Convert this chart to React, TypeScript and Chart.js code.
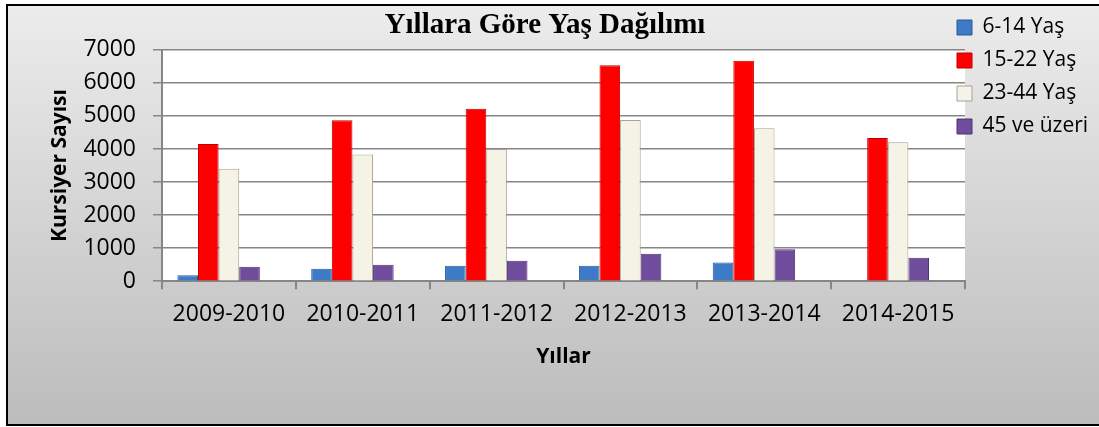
import React, { useEffect, useRef } from "react";
import { Chart, registerables } from "chart.js";

Chart.register(...registerables);

const categories = ["2009-2010", "2010-2011", "2011-2012", "2012-2013", "2013-2014", "2014-2015"];
const seriesNames = ["6-14 Yaş", "15-22 Yaş", "23-44 Yaş", "45 ve üzeri"];
const age6to14 = [180, 375, 465, 465, 566, 0];
const age15to22 = [4150, 4870, 5220, 6530, 6670, 4330];
const age23to44 = [3400, 3830, 4000, 4880, 4630, 4200];
const age45plus = [435, 495, 615, 830, 970, 710];
const yMin = 0;
const yMax = 7000;
const yStep = 1000;

const fills = ["#3d7bc6", "#ff0000", "#f5f2e6", "#704c9c"];
const edges = ["#2a5a94", "#c00000", "#a8a293", "#4e3270"];

const SANS = "'Open Sans', sans-serif";

export default function App() {
  const ref = useRef<HTMLCanvasElement>(null);

  useEffect(() => {
    document.body.style.margin = "0";
    const series = [age6to14, age15to22, age23to44, age45plus];
    const datasets: any[] = series.map((d, i) => ({
      label: seriesNames[i],
      data: d,
      backgroundColor: fills[i],
      borderColor: edges[i],
      borderWidth: 1,
    }));
    // empty slot that reproduces the left-shifted grouping of the original
    datasets.push({ label: "", data: categories.map(() => null), backgroundColor: "rgba(0,0,0,0)" });

    const plotBg = {
      id: "plotBg",
      beforeDraw(chart: any) {
        const { ctx, chartArea } = chart;
        ctx.save();
        ctx.fillStyle = "#ffffff";
        ctx.fillRect(chartArea.left, chartArea.top, chartArea.right - chartArea.left, chartArea.bottom - chartArea.top);
        ctx.restore();
      },
    };
    const placeBoxes = {
      id: "placeBoxes",
      afterLayout(chart: any) {
        const t = chart.titleBlock;
        if (t) {
          t.left = 545 - 300;
          t.right = 545 + 300;
          t.width = 600;
        }
        const l = chart.legend;
        if (l) {
          l.left = 945;
          l.right = chart.width;
          l.width = l.right - l.left;
          const h = l.bottom - l.top;
          l.top = 5;
          l.bottom = 5 + h;
        }
      },
    };

    const chart = new Chart(ref.current!, {
      type: "bar",
      data: { labels: categories, datasets },
      plugins: [plotBg, placeBoxes],
      options: {
        responsive: false,
        animation: false,
        devicePixelRatio: 1,
        layout: { padding: { left: 43, top: 5, right: 0, bottom: 43 } },
        datasets: { bar: { barPercentage: 1, categoryPercentage: 0.77 } },
        plugins: {
          title: {
            display: true,
            text: "Yıllara Göre Yaş Dağılımı",
            color: "#000",
            font: { family: "'Liberation Serif', 'Times New Roman', serif", size: 29, weight: "bold" },
            padding: { top: 3, bottom: 7 },
          },
          legend: {
            position: "right",
            align: "start",
            maxWidth: 134,
            labels: {
              boxWidth: 15,
              boxHeight: 15,
              padding: 12,
              color: "#000",
              font: { family: SANS, size: 21 },
              filter: (item: any) => item.datasetIndex < 4,
            },
          },
          tooltip: { enabled: false },
        },
        scales: {
          x: {
            grid: { drawOnChartArea: false, drawTicks: true, tickLength: 8, color: "#868686", lineWidth: 2 },
            border: { display: true, color: "#868686", width: 2 },
            ticks: { color: "#000", font: { family: SANS, size: 23 }, padding: 11, maxRotation: 0, autoSkip: false },
            title: {
              display: true,
              text: "Yıllar",
              color: "#000",
              font: { family: SANS, size: 21, weight: "bold" },
              padding: { top: 6, bottom: 14 },
            },
          },
          y: {
            min: yMin,
            max: yMax,
            ticks: {
              stepSize: yStep,
              color: "#000",
              font: { family: SANS, size: 23 },
              padding: 17,
              callback: (v: any) => String(v),
            },
            grid: { color: "#868686", lineWidth: 1.5, tickLength: 9 },
            border: { display: true, color: "#868686", width: 2 },
            title: {
              display: true,
              text: "Kursiyer Sayısı",
              color: "#000",
              font: { family: SANS, size: 21, weight: "bold" },
              padding: { top: 4, bottom: 4 },
            },
            afterFit: (s: any) => {
              s.width = 119;
            },
          },
        },
      } as any,
    });
    return () => chart.destroy();
  }, []);

  return (
    <div style={{ position: "relative", width: 1099, height: 427, overflow: "hidden", background: "#fff" }}>
      <div
        style={{
          position: "absolute",
          left: 6,
          top: 4,
          width: 1110,
          height: 422,
          boxSizing: "border-box",
          border: "2px solid #000",
          background: "linear-gradient(#ececec, #bcbcbc)",
        }}
      />
      <canvas
        ref={ref}
        width={1099}
        height={427}
        style={{ position: "absolute", left: 0, top: 0, width: 1099, height: 427 }}
      />
    </div>
  );
}
